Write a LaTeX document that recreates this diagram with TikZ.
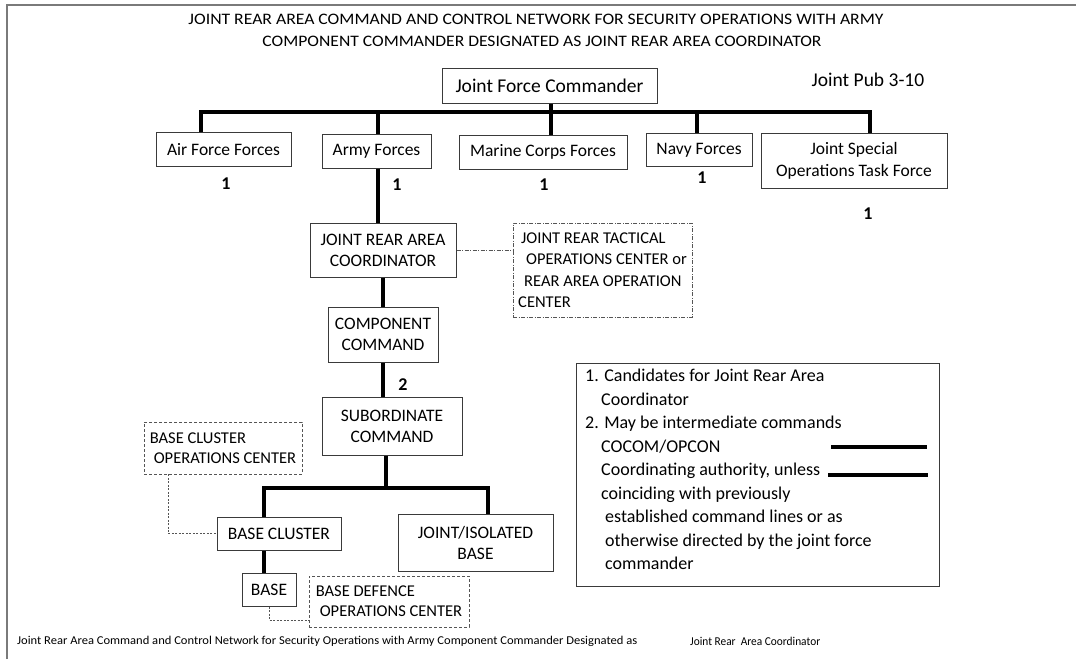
\documentclass[tikz,border=0pt]{standalone}
\usepackage{fontspec}
\setmainfont{Carlito}
\usepackage{graphicx}
\definecolor{boxc}{HTML}{3A3A3A}
\definecolor{framec}{HTML}{7A7A7A}
\definecolor{dashc}{HTML}{555555}
\tikzset{
  box/.style={draw=boxc, line width=1pt, inner sep=0pt, align=center, font=\fontsize{17.5}{21}\selectfont},
  dbox/.style={draw=dashc, line width=0.9pt, dash pattern=on 3pt off 2pt, inner sep=0pt, align=left, font=\fontsize{16.5}{20}\selectfont},
  ddbox/.style={draw=dashc, line width=0.9pt, dash pattern=on 4pt off 1.5pt on 1pt off 1.5pt, inner sep=0pt, align=left, font=\fontsize{16.5}{21.5}\selectfont},
  cmd/.style={line width=3.5pt, black},
  dotl/.style={draw=dashc, line width=0.9pt, dash pattern=on 2pt off 1.5pt},
  dashdotl/.style={draw=dashc, line width=0.9pt, dash pattern=on 4pt off 1.5pt on 1pt off 1.5pt},
  num/.style={font=\fontsize{18}{18}\selectfont\bfseries, inner sep=0pt},
}
\begin{document}
\begin{tikzpicture}[x=1pt,y=-1pt]
\useasboundingbox (0,0) rectangle (1076,659);
\fill[white] (0,0) rectangle (1076,659);
% frame
\draw[framec, line width=2pt] (7,659) -- (7,5) -- (1076,5);
% title
\node[inner sep=0pt, font=\fontsize{16}{16}\selectfont] (t1) at (536,19) {\resizebox{695pt}{\height}{JOINT REAR AREA COMMAND AND CONTROL NETWORK FOR SECURITY OPERATIONS WITH ARMY}};
\node[inner sep=0pt, font=\fontsize{16}{16}\selectfont] (t2) at (542,41) {\resizebox{559pt}{\height}{COMPONENT COMMANDER DESIGNATED AS JOINT REAR AREA COORDINATOR}};
\node[inner sep=0pt, font=\fontsize{19.5}{19.5}\selectfont] (jp) at (868,80) {Joint Pub 3-10};
% top level
\node[box, minimum width=215pt, minimum height=35pt, font=\fontsize{19.5}{22}\selectfont] (jfc) at (549.5,85.5) {Joint Force Commander};
\node[box, minimum width=135pt, minimum height=34pt] (af) at (223.5,149.5) {Air Force Forces};
\node[box, minimum width=109pt, minimum height=34pt] (army) at (376.5,151) {Army Forces};
\node[box, minimum width=168pt, minimum height=34pt] (mar) at (543,152) {Marine Corps Forces};
\node[box, minimum width=106pt, minimum height=33pt] (navy) at (699,150) {Navy Forces};
\node[box, minimum width=186pt, minimum height=55pt, font=\fontsize{17.5}{22}\selectfont] (js) at (854,160.5) {Joint Special\\Operations Task Force};
% numbers
\node[num] (n1) at (226,184) {1};
\node[num] (n2) at (397,185) {1};
\node[num] (n3) at (544,185) {1};
\node[num] (n4) at (702,178) {1};
\node[num] (n5) at (868,214) {1};
% bus
\coordinate (b1) at (201,112);
\coordinate (b2) at (378,112);
\coordinate (b3) at (551,112);
\coordinate (b4) at (697,112);
\coordinate (b5) at (870,112);
\draw[cmd] (b1 |- af.north) -- (b1) -- (b5) -- (b5 |- js.north);
\draw[cmd] (b2) -- (b2 |- army.north);
\draw[cmd] (jfc.south -| b3) -- (mar.north -| b3);
\draw[cmd] (b4) -- (b4 |- navy.north);
% army chain
\node[box, minimum width=146pt, minimum height=54pt] (jrac) at (383,250) {JOINT REAR AREA\\COORDINATOR};
\node[ddbox, minimum width=179pt, minimum height=94pt] (jrtoc) at (602.5,270) {\hspace*{3pt}JOINT REAR TACTICAL\\\hspace*{8pt}OPERATIONS CENTER or\\\hspace*{6pt}REAR AREA OPERATION\\CENTER};
\node[box, minimum width=110pt, minimum height=55pt] (comp) at (383,334.5) {COMPONENT\\COMMAND};
\node[num] (n6) at (403,385) {2};
\node[box, minimum width=140pt, minimum height=58pt] (sub) at (392,426) {SUBORDINATE\\COMMAND};
\draw[cmd] (army.south -| b2) -- (jrac.north -| b2);
\draw[dashdotl] (jrac.east) -- (jrac.east -| jrtoc.west);
\draw[cmd] (jrac.south) -- (comp.north);
\draw[cmd] (comp.south) -- (comp.south |- sub.north);
% lower level
\node[dbox, minimum width=158pt, minimum height=52pt] (bcoc) at (223,448) {BASE CLUSTER\\\hspace*{4pt}OPERATIONS CENTER};
\node[box, minimum width=124pt, minimum height=33pt] (bc) at (279,533.5) {BASE CLUSTER};
\node[box, minimum width=155pt, minimum height=57pt] (ji) at (475.5,542.5) {JOINT/ISOLATED\\BASE};
\node[box, minimum width=54pt, minimum height=33pt] (base) at (269,589.5) {BASE};
\node[dbox, minimum width=160pt, minimum height=51pt] (bdoc) at (389,601.5) {BASE DEFENCE\\\hspace*{4pt}OPERATIONS CENTER};
\coordinate (s0) at (386,488);
\coordinate (s1) at (264,488);
\coordinate (s2) at (488,488);
\draw[cmd] (sub.south -| s0) -- (s0);
\draw[cmd] (s1 |- bc.north) -- (s1) -- (s2) -- (s2 |- ji.north);
\draw[cmd] (bc.south -| s1) -- (base.north -| s1);
\coordinate (d1) at (168,533.5);
\draw[dotl] (bcoc.south -| d1) -- (d1) -- (bc.west);
\coordinate (d2) at (269,620);
\draw[dotl] (base.south) -- (d2) -- (d2 -| bdoc.west);
% legend
\node[draw=boxc, line width=1pt, anchor=north west, minimum width=363pt, minimum height=223pt, inner sep=0pt] (leg) at (576,363) {};
\node[anchor=north west, inner sep=0pt, align=left, font=\fontsize{18}{23.5}\selectfont] (legtext) at (585,369) {1. Candidates for Joint Rear Area\\\hspace*{16pt}Coordinator\\2. May be intermediate commands\\\hspace*{16pt}COCOM/OPCON\\\hspace*{16pt}Coordinating authority, unless\\\hspace*{16pt}coinciding with previously\\\hspace*{20pt}established command lines or as\\\hspace*{20pt}otherwise directed by the joint force\\\hspace*{20pt}commander};
\coordinate (l1a) at (831,447);
\coordinate (l1b) at (927,447);
\coordinate (l2a) at (828,475);
\coordinate (l2b) at (928,475);
\draw[cmd] (l1a) -- (l1b);
\draw[cmd] (l2a) -- (l2b);
% footer
\node[inner sep=0pt, anchor=west, font=\fontsize{12}{12}\selectfont] (f1) at (17,641) {\resizebox{620pt}{\height}{Joint Rear Area Command and Control Network for Security Operations with Army Component Commander Designated as}};
\node[inner sep=0pt, anchor=west, font=\fontsize{12}{12}\selectfont] (f2) at (690,641) {\resizebox{130pt}{\height}{Joint Rear\ \ Area Coordinator}};
\end{tikzpicture}
\end{document}
